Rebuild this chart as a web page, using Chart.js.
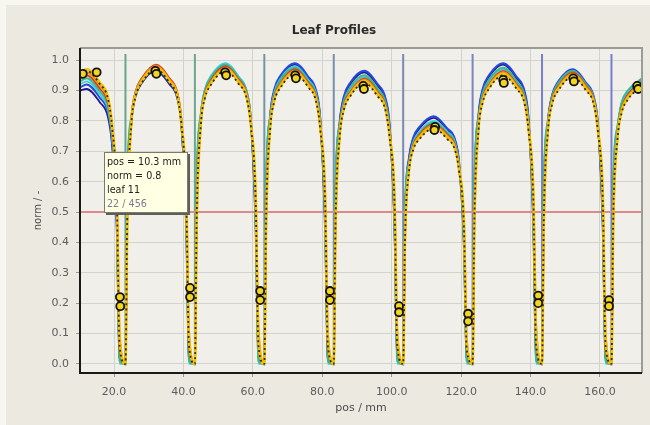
<!DOCTYPE html>
<html>
<head>
<meta charset="utf-8">
<script src="https://cdn.jsdelivr.net/npm/chart.js@4/dist/chart.umd.min.js"></script>
<style>
  html, body { margin: 0; padding: 0; background: #f7f6ef; width: 650px; height: 425px; overflow: hidden; }
  #wrap { position: absolute; left: 6px; top: 5px; width: 644px; height: 420px; }
  #c { background: #ece9e1; }
  #tip {
    position: absolute; left: 104px; top: 152px; width: 80px; height: 57px;
    background: #ffffe4; border: 1px solid #7a7a72; box-shadow: 2px 2px 0 #5f5f58;
    font: 9.6px "DejaVu Sans", sans-serif; line-height: 14px; color: #222;
    padding: 2px 0 0 2px; white-space: nowrap;
  }
  #tip .last { color: #7a7a92; }
</style>
</head>
<body>
<div id="wrap"><canvas id="c" width="644" height="420"></canvas></div>
<div id="tip">pos = 10.3 mm<br>norm = 0.8<br>leaf 11<br><span class="last">22 / 456</span></div>
<script>
// ---- data ----
const chartTitle = 'Leaf Profiles';
const xTitle = 'pos / mm';
const yTitle = 'norm / -';
const xRange = [10.2, 172.1];
const yRange = [-0.03, 1.04];
const xTicks = [20, 40, 60, 80, 100, 120, 140, 160];
const yTicks = [0.0, 0.1, 0.2, 0.3, 0.4, 0.5, 0.6, 0.7, 0.8, 0.9, 1.0];

// sample positions along the profile (mm)
const positions = [
  10.2, 12.1, 16.0, 18.2, 19.4, 20.8, 21.6,
  23.3, 23.8, 25.0, 26.2, 28.0, 32.1, 36.0, 38.2, 39.4, 40.8, 41.6,
  43.3, 43.8, 45.0, 46.2, 48.0, 52.1, 56.0, 58.2, 59.4, 60.8, 61.6,
  63.3, 63.8, 65.0, 66.2, 68.0, 72.1, 76.0, 78.2, 79.4, 80.8, 81.6,
  83.3, 83.8, 85.0, 86.2, 88.0, 92.1, 96.0, 98.2, 99.4, 100.8, 101.6,
  103.3, 103.8, 105.0, 106.2, 108.0, 112.1, 116.0, 118.2, 119.4, 120.8, 121.6,
  123.3, 123.8, 125.0, 126.2, 128.0, 132.1, 136.0, 138.2, 139.4, 140.8, 141.6,
  143.3, 143.8, 145.0, 146.2, 148.0, 152.1, 156.0, 158.2, 159.4, 160.8, 161.6,
  163.3, 163.8, 165.0, 166.2, 168.0, 172.1
];

const leafYellow = [
  0.96, 0.97, 0.925, 0.88, 0.79, 0.56, 0.08,
  0, 0.45, 0.795, 0.885, 0.93, 0.975, 0.93, 0.885, 0.795, 0.56, 0.08,
  0, 0.45, 0.79, 0.88, 0.925, 0.97, 0.925, 0.88, 0.79, 0.56, 0.07,
  0, 0.45, 0.78, 0.87, 0.915, 0.96, 0.915, 0.87, 0.78, 0.56, 0.08,
  0, 0.44, 0.75, 0.84, 0.885, 0.93, 0.885, 0.84, 0.75, 0.55, 0.09,
  0, 0.40, 0.64, 0.71, 0.745, 0.78, 0.745, 0.71, 0.64, 0.47, 0.07,
  0, 0.45, 0.775, 0.865, 0.91, 0.955, 0.91, 0.865, 0.775, 0.56, 0.10,
  0, 0.45, 0.77, 0.86, 0.905, 0.95, 0.905, 0.86, 0.77, 0.56, 0.08,
  0, 0.45, 0.74, 0.83, 0.875, 0.92
];
const leafOrange = [
  0.95, 0.96, 0.915, 0.87, 0.78, 0.55, 0.10,
  0, 0.46, 0.80, 0.89, 0.935, 0.98, 0.935, 0.89, 0.80, 0.55, 0.10,
  0, 0.46, 0.795, 0.885, 0.93, 0.975, 0.93, 0.885, 0.795, 0.55, 0.12,
  0, 0.46, 0.785, 0.875, 0.92, 0.965, 0.92, 0.875, 0.785, 0.55, 0.10,
  0, 0.45, 0.755, 0.845, 0.89, 0.935, 0.89, 0.845, 0.755, 0.54, 0.10,
  0, 0.40, 0.645, 0.715, 0.75, 0.785, 0.75, 0.715, 0.645, 0.46, 0.08,
  0, 0.46, 0.78, 0.87, 0.915, 0.96, 0.915, 0.87, 0.78, 0.55, 0.12,
  0, 0.46, 0.775, 0.865, 0.91, 0.955, 0.91, 0.865, 0.775, 0.55, 0.10,
  0, 0.46, 0.745, 0.835, 0.88, 0.925
];
const leafRed = [
  0.94, 0.95, 0.905, 0.86, 0.77, 0.52, 0.05,
  0, 0.48, 0.805, 0.895, 0.94, 0.985, 0.94, 0.895, 0.805, 0.52, 0.05,
  0, 0.48, 0.80, 0.89, 0.935, 0.98, 0.935, 0.89, 0.80, 0.52, 0.06,
  0, 0.48, 0.79, 0.88, 0.925, 0.97, 0.925, 0.88, 0.79, 0.52, 0.05,
  0, 0.47, 0.76, 0.85, 0.895, 0.94, 0.895, 0.85, 0.76, 0.51, 0.06,
  0, 0.41, 0.65, 0.72, 0.755, 0.79, 0.755, 0.72, 0.65, 0.44, 0.05,
  0, 0.48, 0.785, 0.875, 0.92, 0.965, 0.92, 0.875, 0.785, 0.52, 0.07,
  0, 0.48, 0.78, 0.87, 0.915, 0.96, 0.915, 0.87, 0.78, 0.52, 0.05,
  0, 0.48, 0.75, 0.84, 0.885, 0.93
];
const leafBlue = [
  0.91, 0.92, 0.875, 0.83, 0.74, 0.45, 0.02,
  0, 0.55, 0.80, 0.885, 0.93, 0.97, 0.925, 0.88, 0.79, 0.45, 0.02,
  0, 0.55, 0.815, 0.90, 0.945, 0.985, 0.94, 0.895, 0.805, 0.45, 0.02,
  0, 0.56, 0.82, 0.905, 0.95, 0.99, 0.945, 0.90, 0.81, 0.45, 0.02,
  0, 0.55, 0.795, 0.88, 0.925, 0.965, 0.92, 0.875, 0.785, 0.45, 0.03,
  0, 0.48, 0.68, 0.745, 0.78, 0.815, 0.775, 0.74, 0.665, 0.39, 0.02,
  0, 0.56, 0.82, 0.905, 0.95, 0.99, 0.945, 0.90, 0.81, 0.45, 0.02,
  0, 0.55, 0.80, 0.885, 0.93, 0.97, 0.925, 0.88, 0.79, 0.45, 0.02,
  0, 0.55, 0.77, 0.855, 0.895, 0.935
];
const leafNavy = [
  0.90, 0.905, 0.86, 0.815, 0.725, 0.46, 0.02,
  0, 0.53, 0.795, 0.88, 0.925, 0.965, 0.92, 0.875, 0.785, 0.47, 0.02,
  0, 0.53, 0.81, 0.895, 0.94, 0.98, 0.935, 0.89, 0.80, 0.47, 0.03,
  0, 0.54, 0.815, 0.90, 0.945, 0.985, 0.94, 0.895, 0.805, 0.47, 0.02,
  0, 0.53, 0.79, 0.875, 0.92, 0.96, 0.915, 0.87, 0.78, 0.46, 0.02,
  0, 0.46, 0.675, 0.74, 0.775, 0.81, 0.77, 0.735, 0.66, 0.40, 0.02,
  0, 0.54, 0.815, 0.90, 0.945, 0.985, 0.94, 0.895, 0.805, 0.47, 0.03,
  0, 0.53, 0.795, 0.88, 0.925, 0.965, 0.92, 0.875, 0.785, 0.47, 0.02,
  0, 0.53, 0.765, 0.85, 0.89, 0.93
];
const leafTeal = [
  0.93, 0.94, 0.895, 0.85, 0.76, 0.48, 0.01,
  0, 0.60, 0.815, 0.895, 0.94, 0.98, 0.935, 0.89, 0.80, 0.48, 0.01,
  0, 0.60, 0.82, 0.90, 0.945, 0.985, 0.94, 0.895, 0.805, 0.48, 0.01,
  0, 0.60, 0.81, 0.89, 0.935, 0.975, 0.93, 0.885, 0.795, 0.48, 0.01,
  0, 0.59, 0.785, 0.865, 0.91, 0.95, 0.905, 0.86, 0.77, 0.47, 0.01,
  0, 0.50, 0.66, 0.725, 0.76, 0.795, 0.76, 0.725, 0.65, 0.40, 0.01,
  0, 0.60, 0.81, 0.89, 0.935, 0.975, 0.93, 0.885, 0.795, 0.48, 0.01,
  0, 0.60, 0.80, 0.88, 0.925, 0.965, 0.92, 0.875, 0.785, 0.48, 0.01,
  0, 0.60, 0.78, 0.86, 0.90, 0.94
];
const leafCyan = [
  0.92, 0.93, 0.885, 0.84, 0.75, 0.50, 0.0,
  0, 0.58, 0.81, 0.89, 0.935, 0.975, 0.93, 0.885, 0.795, 0.50, 0.0,
  0, 0.58, 0.825, 0.905, 0.95, 0.99, 0.945, 0.90, 0.81, 0.50, 0.0,
  0, 0.58, 0.815, 0.895, 0.94, 0.98, 0.935, 0.89, 0.80, 0.50, 0.0,
  0, 0.57, 0.78, 0.86, 0.905, 0.945, 0.90, 0.855, 0.765, 0.49, 0.0,
  0, 0.49, 0.665, 0.73, 0.765, 0.80, 0.765, 0.73, 0.655, 0.42, 0.0,
  0, 0.58, 0.805, 0.885, 0.93, 0.97, 0.925, 0.88, 0.79, 0.50, 0.0,
  0, 0.58, 0.795, 0.875, 0.92, 0.96, 0.915, 0.87, 0.78, 0.50, 0.0,
  0, 0.58, 0.775, 0.855, 0.895, 0.935
];
const leafDark = [
  0.955, 0.965, 0.92, 0.875, 0.785, 0.54, 0.06,
  0, 0.47, 0.79, 0.88, 0.925, 0.97, 0.925, 0.88, 0.79, 0.54, 0.06,
  0, 0.47, 0.785, 0.875, 0.92, 0.965, 0.92, 0.875, 0.785, 0.54, 0.06,
  0, 0.47, 0.775, 0.865, 0.91, 0.955, 0.91, 0.865, 0.775, 0.54, 0.06,
  0, 0.46, 0.745, 0.835, 0.88, 0.925, 0.88, 0.835, 0.745, 0.53, 0.06,
  0, 0.40, 0.635, 0.705, 0.74, 0.775, 0.74, 0.705, 0.635, 0.45, 0.05,
  0, 0.47, 0.77, 0.86, 0.905, 0.95, 0.905, 0.86, 0.77, 0.54, 0.06,
  0, 0.47, 0.765, 0.855, 0.90, 0.945, 0.90, 0.855, 0.765, 0.54, 0.06,
  0, 0.47, 0.735, 0.825, 0.87, 0.915
];

// marker circles (pos, norm)
const markerX = [11.0, 15.0, 31.9, 32.2, 52.0, 52.3, 72.2, 72.4, 91.8, 92.0, 112.5, 112.3, 132.1, 132.3, 152.3, 152.5, 170.7, 171.0,
                 21.7, 21.8, 41.9, 41.9, 62.1, 62.1, 82.2, 82.2, 102.1, 102.1, 122.0, 122.0, 142.2, 142.2, 162.6, 162.6];
const markerY = [0.955, 0.96, 0.965, 0.955, 0.96, 0.95, 0.95, 0.94, 0.915, 0.905, 0.78, 0.77, 0.935, 0.925, 0.94, 0.93, 0.915, 0.905,
                 0.22, 0.19, 0.25, 0.22, 0.24, 0.21, 0.24, 0.21, 0.19, 0.17, 0.165, 0.14, 0.225, 0.20, 0.21, 0.19];

// leaf edge reference lines (mm) and their vertical extent
const edgeLines = [23.3, 43.3, 63.3, 83.3, 103.3, 123.3, 143.3, 163.3];
const edgeSpan = [-0.005, 1.02];
const thresholdLevel = 0.5;

// ---- styles ----
const edgeColors = ['#6aa48c', '#6ea592', '#7396a6', '#7690ae', '#7a88b6', '#7984c2', '#787ecc', '#787ecc'];
const leafSeries = [
  { data: leafDark,   color: '#2e2a1c', width: 1.8, dash: [2, 3] },
  { data: leafYellow, color: '#f2c200', width: 2.6 },
  { data: leafOrange, color: '#ef8f1e', width: 2.2 },
  { data: leafRed,    color: '#d2431c', width: 1.8 },
  { data: leafTeal,   color: '#3cb98e', width: 2 },
  { data: leafCyan,   color: '#3bd2e4', width: 1.8 },
  { data: leafBlue,   color: '#2a45e0', width: 2 },
  { data: leafNavy,   color: '#1c1a8c', width: 1.8 }
];

const datasets = [];
datasets.push({
  type: 'scatter',
  data: markerX.map((x, i) => ({ x, y: markerY[i] })),
  pointRadius: 4, pointBackgroundColor: '#f3d51e', pointBorderColor: '#111', pointBorderWidth: 1.8,
  showLine: false
});
leafSeries.forEach(s => {
  datasets.push({
    type: 'line',
    data: positions.map((x, i) => ({ x, y: s.data[i] })),
    borderColor: s.color, borderWidth: s.width, borderDash: s.dash || [],
    pointRadius: 0, fill: false, cubicInterpolationMode: 'monotone'
  });
});
datasets.push({
  type: 'line',
  data: [{ x: xRange[0], y: thresholdLevel }, { x: xRange[1], y: thresholdLevel }],
  borderColor: '#dc8a8a', borderWidth: 2, pointRadius: 0, fill: false
});
edgeLines.forEach((x, i) => {
  datasets.push({
    type: 'line',
    data: [{ x, y: edgeSpan[0] }, { x, y: edgeSpan[1] }],
    borderColor: edgeColors[i], borderWidth: 2, pointRadius: 0, fill: false
  });
});

const frame = {
  id: 'frame',
  beforeDraw(chart) {
    const { ctx, chartArea: a } = chart;
    ctx.save();
    ctx.fillStyle = '#f0efe9';
    ctx.fillRect(a.left, a.top, a.right - a.left, a.bottom - a.top);
    ctx.restore();
  },
  afterDraw(chart) {
    const { ctx, chartArea: a } = chart;
    ctx.save();
    ctx.strokeStyle = '#9c9c96';
    ctx.lineWidth = 2;
    ctx.beginPath();
    ctx.moveTo(a.left, a.top); ctx.lineTo(a.right, a.top); ctx.lineTo(a.right, a.bottom);
    ctx.stroke();
    ctx.strokeStyle = '#1a1a1a';
    ctx.beginPath();
    ctx.moveTo(a.left, a.top); ctx.lineTo(a.left, a.bottom); ctx.lineTo(a.right, a.bottom);
    ctx.stroke();
    ctx.restore();
  }
};

const tickFont = { family: 'DejaVu Sans', size: 11 };
new Chart(document.getElementById('c'), {
  type: 'line',
  data: { datasets },
  plugins: [frame],
  options: {
    responsive: false,
    animation: false,
    layout: { padding: { left: 20, right: 8, top: 0, bottom: 10 } },
    plugins: {
      legend: { display: false },
      tooltip: { enabled: false },
      title: {
        display: true, text: chartTitle, color: '#2a2a2a',
        font: { family: 'DejaVu Sans', size: 12, weight: 'bold' },
        padding: { top: 18.5, bottom: 10.1 }
      }
    },
    scales: {
      x: {
        type: 'linear', min: xRange[0], max: xRange[1],
        afterBuildTicks: s => { s.ticks = xTicks.map(v => ({ value: v })); },
        afterFit: s => { s.height = 42; },
        ticks: { autoSkip: false, color: '#5c5c5c', font: tickFont, padding: 9, maxRotation: 0,
                 callback: v => Number(v).toFixed(1) },
        grid: { color: '#d3d2cb', lineWidth: 1, tickLength: 4, tickColor: '#999' },
        border: { display: false },
        title: { display: true, text: xTitle, color: '#4a4a4a', font: tickFont, padding: { top: 4, bottom: 0 } }
      },
      y: {
        type: 'linear', min: yRange[0], max: yRange[1],
        afterBuildTicks: s => { s.ticks = yTicks.map(v => ({ value: v })); },
        afterFit: s => { s.width = 54; },
        ticks: { autoSkip: false, color: '#5c5c5c', font: tickFont, padding: 7,
                 callback: v => Number(v).toFixed(1) },
        grid: { color: '#d3d2cb', lineWidth: 1, tickLength: 4, tickColor: '#999' },
        border: { display: false },
        title: { display: true, text: yTitle, color: '#4a4a4a', font: { family: 'DejaVu Sans', size: 10 }, padding: { top: 6, bottom: 0 } }
      }
    }
  }
});
</script>
</body>
</html>
